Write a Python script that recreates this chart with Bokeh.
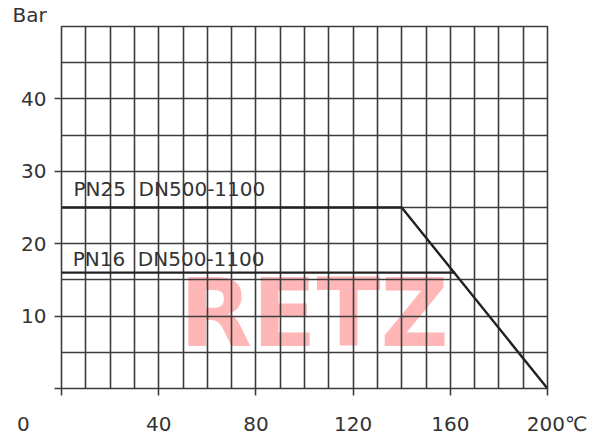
from bokeh.plotting import figure
from bokeh.models import Range1d, FixedTicker
from bokeh.core.properties import value
from bokeh.embed import file_html
from bokeh.resources import INLINE

# ---- data ----
pn25_temp = [0, 140, 200]
pn25_bar = [25, 25, 0]
pn16_temp = [0, 162]
pn16_bar = [16, 16]
series_labels = ["PN25  DN500-1100", "PN16  DN500-1100"]
x_ticks = [0, 40, 80, 120, 160, 200]
x_tick_labels = ["0", "40", "80", "120", "160", "200℃"]
y_ticks = [0, 10, 20, 30, 40]
y_tick_labels = ["", "10", "20", "30", "40"]
x_grid = list(range(0, 201, 10))
y_grid = list(range(0, 51, 5))
y_unit = "Bar"
watermark = "RETZ"

FONT = "DejaVu Sans"
TXT = "#333333"
GRID = "#3c3c3c"
NB = "\u00a0"

p = figure(width=600, height=440, output_backend="svg", toolbar_location=None,
           x_range=Range1d(0, 200), y_range=Range1d(0, 50),
           min_border_left=61, min_border_right=53, min_border_top=25, min_border_bottom=52)
p.background_fill_color = "white"
p.border_fill_color = "white"
p.outline_line_color = GRID
p.outline_line_width = 1.6

# unit label as a left-aligned title above the frame
p.title.text = y_unit
p.title.align = "left"
p.title.offset = -49
p.title.standoff = 0
p.title.text_font = FONT
p.title.text_font_size = "20px"
p.title.text_font_style = "normal"
p.title.text_color = TXT

# grid
p.xgrid.ticker = FixedTicker(ticks=x_grid)
p.ygrid.ticker = FixedTicker(ticks=y_grid)
for g in (p.xgrid, p.ygrid):
    g.grid_line_color = GRID
    g.grid_line_width = 1.6
    g.grid_line_alpha = 1.0

# axes
p.xaxis.ticker = FixedTicker(ticks=x_ticks)
p.yaxis.ticker = FixedTicker(ticks=y_ticks)
xo = {t: l for t, l in zip(x_ticks, x_tick_labels)}
# the reference sets the origin label off to the left and the unit after "200"
xo[x_ticks[0]] = x_tick_labels[0] + NB * 12
xo[x_ticks[-1]] = NB * 3 + x_tick_labels[-1]
p.xaxis.major_label_overrides = xo
p.yaxis.major_label_overrides = {t: l for t, l in zip(y_ticks, y_tick_labels)}
for ax in (p.xaxis, p.yaxis):
    ax.axis_line_color = None
    ax.major_tick_line_color = GRID
    ax.major_tick_line_width = 1.6
    ax.major_tick_in = 0
    ax.major_tick_out = 7
    ax.minor_tick_line_color = None
    ax.major_label_text_font = FONT
    ax.major_label_text_font_size = "20px"
    ax.major_label_text_color = TXT
p.yaxis.major_label_standoff = 8
p.xaxis.major_label_standoff = 16

# watermark (behind grid)
wm = p.text(x=[104], y=[10.4], text=[watermark], text_font=value("DejaVu Sans"),
            text_font_style="bold", text_font_size="94px", text_color="#ff9e9e",
            text_alpha=0.75, text_align="center", text_baseline="alphabetic")
wm.level = "image"

# series lines
p.line(pn25_temp, pn25_bar, line_color="#222222", line_width=2.4)
p.line(pn16_temp, pn16_bar, line_color="#222222", line_width=2.4)

# series labels (keep the double space visible)
shown = [s.replace("  ", " " + NB) for s in series_labels]
p.text(x=[4.9, 4.6], y=[27.6, 17.9], text=shown, text_font=value(FONT),
       text_font_size="20px", text_color=TXT, text_align="left", text_baseline="alphabetic")

open("out.html", "w").write(file_html(p, INLINE))
